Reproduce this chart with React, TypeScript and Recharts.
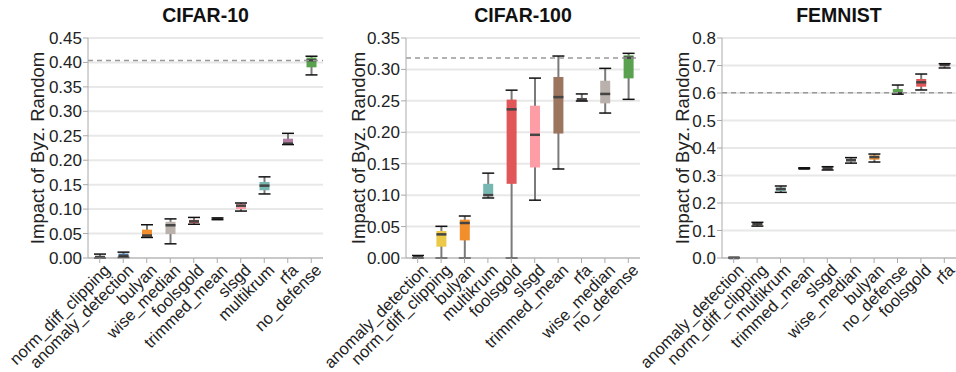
import { ComposedChart, Bar, XAxis, YAxis, CartesianGrid, ReferenceLine } from 'recharts'

const FONT = '"Liberation Sans", Arial, Helvetica, sans-serif'

const BLUE = '#4e79a7'
const ORANGE = '#f28e2b'
const RED = '#e15759'
const TEAL = '#76b7b2'
const GREEN = '#59a14f'
const YELLOW = '#edc948'
const PURPLE = '#b07aa1'
const PINK = '#ff9da7'
const BROWN = '#9c755f'
const GREY = '#bab0ac'

// CIFAR-10
const c10Names = ['norm_diff_clipping', 'anomaly_detection', 'bulyan', 'wise_median', 'foolsgold', 'trimmed_mean', 'slsgd', 'multikrum', 'rfa', 'no_defense']
const c10Colors = [YELLOW, BLUE, ORANGE, GREY, RED, BROWN, PINK, TEAL, PURPLE, GREEN]
const c10Min = [0.0, 0.001, 0.042, 0.029, 0.069, 0.0785, 0.096, 0.131, 0.232, 0.3745]
const c10Q1 = [0.0005, 0.002, 0.043, 0.049, 0.071, 0.079, 0.100, 0.1385, 0.2325, 0.390]
const c10Med = [0.002, 0.004, 0.046, 0.067, 0.075, 0.080, 0.107, 0.148, 0.234, 0.4045]
const c10Q3 = [0.004, 0.009, 0.058, 0.074, 0.078, 0.081, 0.111, 0.1555, 0.244, 0.410]
const c10Max = [0.008, 0.012, 0.068, 0.080, 0.083, 0.082, 0.1125, 0.166, 0.255, 0.4127]
const c10Ticks = [0, 0.05, 0.1, 0.15, 0.2, 0.25, 0.3, 0.35, 0.4, 0.45]
const c10Ref = 0.404

// CIFAR-100
const c100Names = ['anomaly_detection', 'norm_diff_clipping', 'bulyan', 'multikrum', 'foolsgold', 'slsgd', 'trimmed_mean', 'rfa', 'wise_median', 'no_defense']
const c100Colors = [BLUE, YELLOW, ORANGE, TEAL, RED, PINK, BROWN, PURPLE, GREY, GREEN]
const c100Min = [0.0, 0.0, 0.0, 0.0955, 0.0, 0.092, 0.1416, 0.2497, 0.2306, 0.2524]
const c100Q1 = [0.0, 0.018, 0.028, 0.0986, 0.118, 0.144, 0.198, 0.2497, 0.246, 0.2858]
const c100Med = [0.001, 0.0376, 0.0557, 0.100, 0.2365, 0.196, 0.256, 0.2524, 0.261, 0.3187]
const c100Q3 = [0.002, 0.043, 0.061, 0.118, 0.252, 0.2423, 0.288, 0.2545, 0.282, 0.3224]
const c100Max = [0.004, 0.0504, 0.0668, 0.135, 0.267, 0.2862, 0.3213, 0.261, 0.3017, 0.3256]
const c100Ticks = [0, 0.05, 0.1, 0.15, 0.2, 0.25, 0.3, 0.35]
const c100Ref = 0.318

// FEMNIST
const femNames = ['anomaly_detection', 'norm_diff_clipping', 'multikrum', 'trimmed_mean', 'slsgd', 'wise_median', 'bulyan', 'no_defense', 'foolsgold', 'rfa']
const femColors = [BLUE, YELLOW, TEAL, BROWN, PINK, GREY, ORANGE, GREEN, RED, PURPLE]
const femMin = [0.0, 0.116, 0.2388, 0.3245, 0.320, 0.345, 0.349, 0.596, 0.611, 0.691]
const femQ1 = [0.0, 0.120, 0.2436, 0.325, 0.322, 0.350, 0.3576, 0.596, 0.623, 0.697]
const femMed = [0.0005, 0.1236, 0.251, 0.326, 0.326, 0.356, 0.367, 0.599, 0.639, 0.702]
const femQ3 = [0.001, 0.125, 0.2557, 0.327, 0.329, 0.361, 0.373, 0.6145, 0.651, 0.704]
const femMax = [0.002, 0.1297, 0.2618, 0.328, 0.332, 0.365, 0.378, 0.629, 0.669, 0.7066]
const femTicks = [0, 0.1, 0.2, 0.3, 0.4, 0.5, 0.6, 0.7, 0.8]
const femRef = 0.601

function BoxShape(props: any) {
  const { x, y, width, height, payload } = props
  const top = Math.min(y, y + height)
  const bottom = Math.max(y, y + height)
  const span = payload.max - payload.min || 1
  const py = (v: number) => bottom - ((v - payload.min) / span) * (bottom - top)
  const cx = x + width / 2
  const half = width / 2
  const capHalf = 6
  const boxTop = py(payload.q3)
  const boxBottom = py(payload.q1)
  return (
    <g>
      <line x1={cx} x2={cx} y1={top} y2={bottom} stroke="#7a7a7a" strokeWidth={2} />
      <rect x={cx - half} y={boxTop} width={width} height={Math.max(boxBottom - boxTop, 1.5)} fill={payload.color} />
      <line x1={cx - half} x2={cx + half} y1={py(payload.med)} y2={py(payload.med)} stroke="#444" strokeWidth={2.5} />
      <line x1={cx - capHalf} x2={cx + capHalf} y1={top} y2={top} stroke="#111" strokeWidth={1.5} />
      <line x1={cx - capHalf} x2={cx + capHalf} y1={bottom} y2={bottom} stroke="#111" strokeWidth={1.5} />
    </g>
  )
}

function AngledTick({ x, y, payload }: any) {
  const tx = x + 3
  return (
    <text
      x={tx}
      y={y}
      transform={`rotate(-45, ${tx}, ${y})`}
      textAnchor="end"
      dy="0.71em"
      fontSize={16.5}
      fill="#222"
      fontFamily={FONT}
    >
      {payload.value}
    </text>
  )
}

interface PanelProps {
  title: string
  names: string[]
  colors: string[]
  mins: number[]
  q1s: number[]
  meds: number[]
  q3s: number[]
  maxs: number[]
  ticks: number[]
  refValue: number
  decimals: number
  left: number
  width: number
  axisWidth: number
  labelX: number
}

function Panel(p: PanelProps) {
  const data = p.names.map((name, i) => ({
    name,
    color: p.colors[i],
    min: p.mins[i],
    q1: p.q1s[i],
    med: p.meds[i],
    q3: p.q3s[i],
    max: p.maxs[i],
    range: [p.mins[i], p.maxs[i]],
  }))
  const yMax = p.ticks[p.ticks.length - 1]
  const plotLeft = p.axisWidth
  const plotRight = p.width
  return (
    <div style={{ position: 'absolute', left: p.left, top: 0, width: p.width, height: 372 }}>
      <div
        style={{
          position: 'absolute',
          left: plotLeft,
          width: plotRight - plotLeft,
          top: 4,
          textAlign: 'center',
          fontFamily: FONT,
          fontWeight: 'bold',
          fontSize: 19.5,
          color: '#111',
        }}
      >
        {p.title}
      </div>
      <ComposedChart
        width={p.width}
        height={372}
        data={data}
        margin={{ top: 38, right: 0, bottom: 0, left: 0 }}
        barCategoryGap={0}
        style={{ fontFamily: FONT, overflow: 'visible' }}
      >
        <CartesianGrid vertical={false} stroke="#e8e8e8" strokeWidth={2} />
        <XAxis
          dataKey="name"
          interval={0}
          height={114}
          tick={<AngledTick />}
          tickSize={5}
          tickMargin={0}
          axisLine={{ stroke: '#aaa' }}
          tickLine={{ stroke: '#aaa' }}
        />
        <YAxis
          type="number"
          domain={[0, yMax]}
          ticks={p.ticks}
          interval={0}
          width={p.axisWidth}
          tickFormatter={(v: number) => v.toFixed(p.decimals)}
          tick={{ fontSize: 17, fill: '#222', fontFamily: FONT }}
          tickSize={5}
          tickMargin={1}
          axisLine={{ stroke: '#aaa' }}
          tickLine={{ stroke: '#aaa' }}
          label={{
            content: () => (
              <text
                x={p.labelX}
                y={148}
                transform={`rotate(-90, ${p.labelX}, 148)`}
                textAnchor="middle"
                dominantBaseline="central"
                fontSize={18.5}
                fill="#222"
                fontFamily={FONT}
              >
                Impact of Byz. Random
              </text>
            ),
          }}
        />
        <ReferenceLine y={p.refValue} stroke="#999" strokeDasharray="5 4" strokeWidth={1.5} />
        <Bar dataKey="range" barSize={10} shape={BoxShape} isAnimationActive={false} />
      </ComposedChart>
    </div>
  )
}

export default function App() {
  return (
    <div style={{ position: 'absolute', left: 0, top: 0, width: 956, height: 372, background: '#fff', overflow: 'hidden' }}>
      <style>{'.recharts-surface, .recharts-wrapper { overflow: visible !important; }'}</style>
      <Panel
        title="CIFAR-10"
        names={c10Names}
        colors={c10Colors}
        mins={c10Min}
        q1s={c10Q1}
        meds={c10Med}
        q3s={c10Q3}
        maxs={c10Max}
        ticks={c10Ticks}
        refValue={c10Ref}
        decimals={2}
        left={0}
        width={323}
        axisWidth={88}
        labelX={37}
      />
      <Panel
        title="CIFAR-100"
        names={c100Names}
        colors={c100Colors}
        mins={c100Min}
        q1s={c100Q1}
        meds={c100Med}
        q3s={c100Q3}
        maxs={c100Max}
        ticks={c100Ticks}
        refValue={c100Ref}
        decimals={2}
        left={330}
        width={310}
        axisWidth={76}
        labelX={28}
      />
      <Panel
        title="FEMNIST"
        names={femNames}
        colors={femColors}
        mins={femMin}
        q1s={femQ1}
        meds={femMed}
        q3s={femQ3}
        maxs={femMax}
        ticks={femTicks}
        refValue={femRef}
        decimals={1}
        left={650}
        width={306}
        axisWidth={72}
        labelX={32}
      />
    </div>
  )
}
